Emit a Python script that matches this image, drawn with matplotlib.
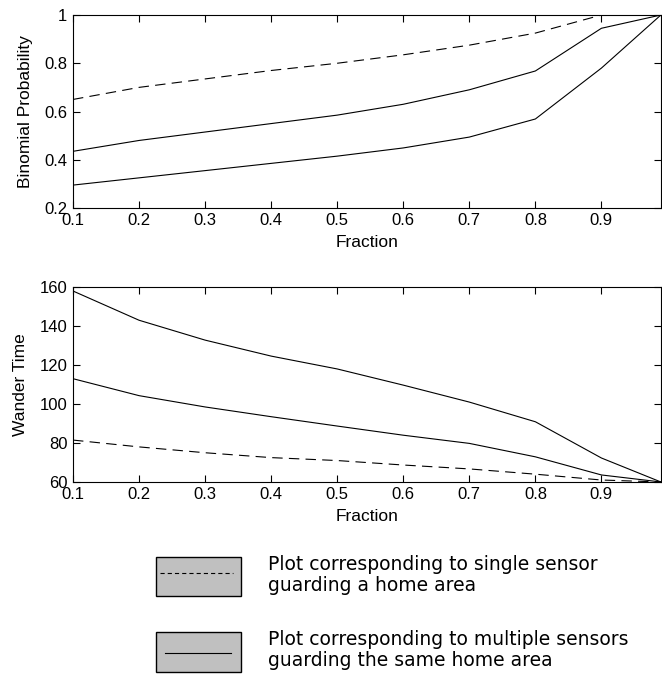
import matplotlib.pyplot as plt
from matplotlib.patches import Rectangle
from matplotlib.lines import Line2D

plt.rcParams['font.family'] = ['Liberation Sans', 'DejaVu Sans']
plt.rcParams['lines.scale_dashes'] = False

fraction = [0.1, 0.2, 0.3, 0.4, 0.5, 0.6, 0.7, 0.8, 0.9, 0.99]

# binomial probability
prob_single = [0.65, 0.70, 0.735, 0.77, 0.80, 0.835, 0.875, 0.925, 1.0, 1.0]
prob_multi_a = [0.435, 0.48, 0.515, 0.55, 0.585, 0.63, 0.69, 0.768, 0.945, 1.0]
prob_multi_b = [0.295, 0.325, 0.355, 0.385, 0.415, 0.449, 0.494, 0.569, 0.78, 1.0]

# wander time
wander_single = [81.5, 78.0, 75.0, 72.5, 71.0, 68.7, 66.7, 64.0, 61.0, 60.0]
wander_multi_a = [158.0, 143.0, 132.8, 124.6, 118.0, 109.7, 101.0, 90.9, 72.3, 60.0]
wander_multi_b = [113.0, 104.3, 98.5, 93.5, 88.7, 84.0, 79.8, 72.9, 63.6, 60.0]

xticks = [0.1, 0.2, 0.3, 0.4, 0.5, 0.6, 0.7, 0.8, 0.9]
xticklabels = ['0.1', '0.2', '0.3', '0.4', '0.5', '0.6', '0.7', '0.8', '0.9']

legend_labels = ['Plot corresponding to single sensor\nguarding a home area',
                 'Plot corresponding to multiple sensors\nguarding the same home area']

tick_font = ['Liberation Sans Narrow', 'Liberation Sans']
fs = 12
lw = 0.8
dash = (0, (7.5, 4.5))

fig = plt.figure(figsize=(6.62, 6.82), dpi=100)

ax1 = fig.add_axes([0.1103, 0.695, 0.888, 0.283])
ax1.plot(fraction, prob_single, color='k', lw=lw, linestyle=dash)
ax1.plot(fraction, prob_multi_a, color='k', lw=lw)
ax1.plot(fraction, prob_multi_b, color='k', lw=lw)
ax1.set_xlim(0.1, 0.99)
ax1.set_ylim(0.2, 1.0)
ax1.set_yticks([0.2, 0.4, 0.6, 0.8, 1.0])
ax1.set_yticklabels(['0.2', '0.4', '0.6', '0.8', '1'])
ax1.set_ylabel('Binomial Probability', fontsize=12.5, labelpad=8)

ax2 = fig.add_axes([0.1103, 0.2933, 0.888, 0.2857])
ax2.plot(fraction, wander_single, color='k', lw=lw, linestyle=dash)
ax2.plot(fraction, wander_multi_a, color='k', lw=lw)
ax2.plot(fraction, wander_multi_b, color='k', lw=lw)
ax2.set_xlim(0.1, 0.99)
ax2.set_ylim(60, 160)
ax2.set_yticks([60, 80, 100, 120, 140, 160])
ax2.set_ylabel('Wander Time', fontsize=12.5, labelpad=8)

for ax in (ax1, ax2):
    ax.set_xticks(xticks)
    ax.set_xticklabels(xticklabels)
    ax.set_xlabel('Fraction', fontsize=12.5, labelpad=5)
    ax.tick_params(direction='in', length=5, width=0.8, top=True, right=True,
                   labelsize=fs)
    ax.tick_params(axis='x', pad=3.5)
    ax.tick_params(axis='y', pad=4)
    for lab in ax.get_xticklabels() + ax.get_yticklabels():
        lab.set_family(tick_font)
    for s in ax.spines.values():
        s.set_linewidth(0.8)

# legend boxes drawn in figure pixels
W, H = 662.0, 682.0
boxes = [(156, 557, 241, 596), (156, 632, 241, 672)]
styles = [(0, (3, 2.2)), '-']
line_y = [573, 653]
line_x = [(160, 233), (165, 231)]
texts_y = [575, 650]
for (x0, y0, x1, y1), st, ly, (lx0, lx1), lab, ty in zip(boxes, styles, line_y, line_x,
                                                       legend_labels, texts_y):
    fig.patches.append(Rectangle((x0 / W, 1 - y1 / H), (x1 - x0) / W, (y1 - y0) / H,
                                 transform=fig.transFigure, facecolor='#c0c0c0',
                                 edgecolor='k', lw=1.0))
    fig.lines.append(Line2D([lx0 / W, lx1 / W], [1 - ly / H, 1 - ly / H],
                            transform=fig.transFigure, color='k', lw=lw, linestyle=st))
    fig.text(268 / W, 1 - ty / H, lab, fontsize=13.5, va='center', ha='left',
             family=['DejaVu Sans'], linespacing=1.1)

fig.savefig('out.png', dpi=100)
